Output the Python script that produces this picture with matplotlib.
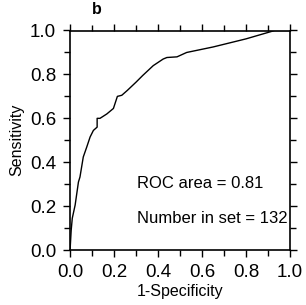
import numpy as np
import matplotlib
matplotlib.use("Agg")
import matplotlib.pyplot as plt
from matplotlib.ticker import MultipleLocator

# ROC curve
fpr = [0.0, 0.005, 0.01, 0.023, 0.038, 0.045, 0.06, 0.076, 0.091, 0.106,
       0.123, 0.123, 0.136, 0.167, 0.197, 0.215, 0.235, 0.26, 0.30, 0.33,
       0.378, 0.423, 0.44, 0.486, 0.53, 0.65, 0.80, 0.93, 1.0]
tpr = [0.0, 0.09, 0.145, 0.205, 0.31, 0.333, 0.424, 0.47, 0.515, 0.545,
       0.56, 0.60, 0.60, 0.62, 0.645, 0.70, 0.705, 0.727, 0.765, 0.795,
       0.84, 0.87, 0.877, 0.88, 0.90, 0.925, 0.962, 1.0, 1.0]

roc_area = 0.81
n_set = 132

plt.rcParams['font.family'] = ['Liberation Sans', 'DejaVu Sans']

fig = plt.figure(figsize=(3.06, 3.05), dpi=100)
ax = fig.add_axes([0.229, 0.180, 0.719, 0.720])

ax.plot(fpr, tpr, color='black', lw=1.0)

ax.set_xlim(0, 1)
ax.set_ylim(0, 1)
ax.xaxis.set_major_locator(MultipleLocator(0.2))
ax.xaxis.set_minor_locator(MultipleLocator(0.1))
ax.yaxis.set_major_locator(MultipleLocator(0.2))
ax.yaxis.set_minor_locator(MultipleLocator(0.1))
ax.xaxis.set_major_formatter(lambda v, p: f"{v:.1f}")
ax.yaxis.set_major_formatter(lambda v, p: f"{v:.1f}")

ax.tick_params(which='both', direction='out', top=True, right=True,
               width=1.0, labelsize=13.5)
ax.tick_params(which='major', length=5, pad=5)
ax.tick_params(which='minor', length=4)
for s in ax.spines.values():
    s.set_linewidth(1.2)

ax.set_xlabel('1-Specificity', fontsize=11.5, labelpad=2)
ax.set_ylabel('Sensitivity', fontsize=11.5, labelpad=4)

ax.text(0.305, 0.305, f'ROC area = {roc_area:.2f}', fontsize=12, va='center')
ax.text(0.305, 0.145, f'Number in set = {n_set}', fontsize=12, va='center')

fig.text(96.5 / 306, 1 - 10 / 305, 'b', fontsize=11.5, fontweight='bold',
         ha='center', va='center')

fig.savefig('out.png', dpi=100)
